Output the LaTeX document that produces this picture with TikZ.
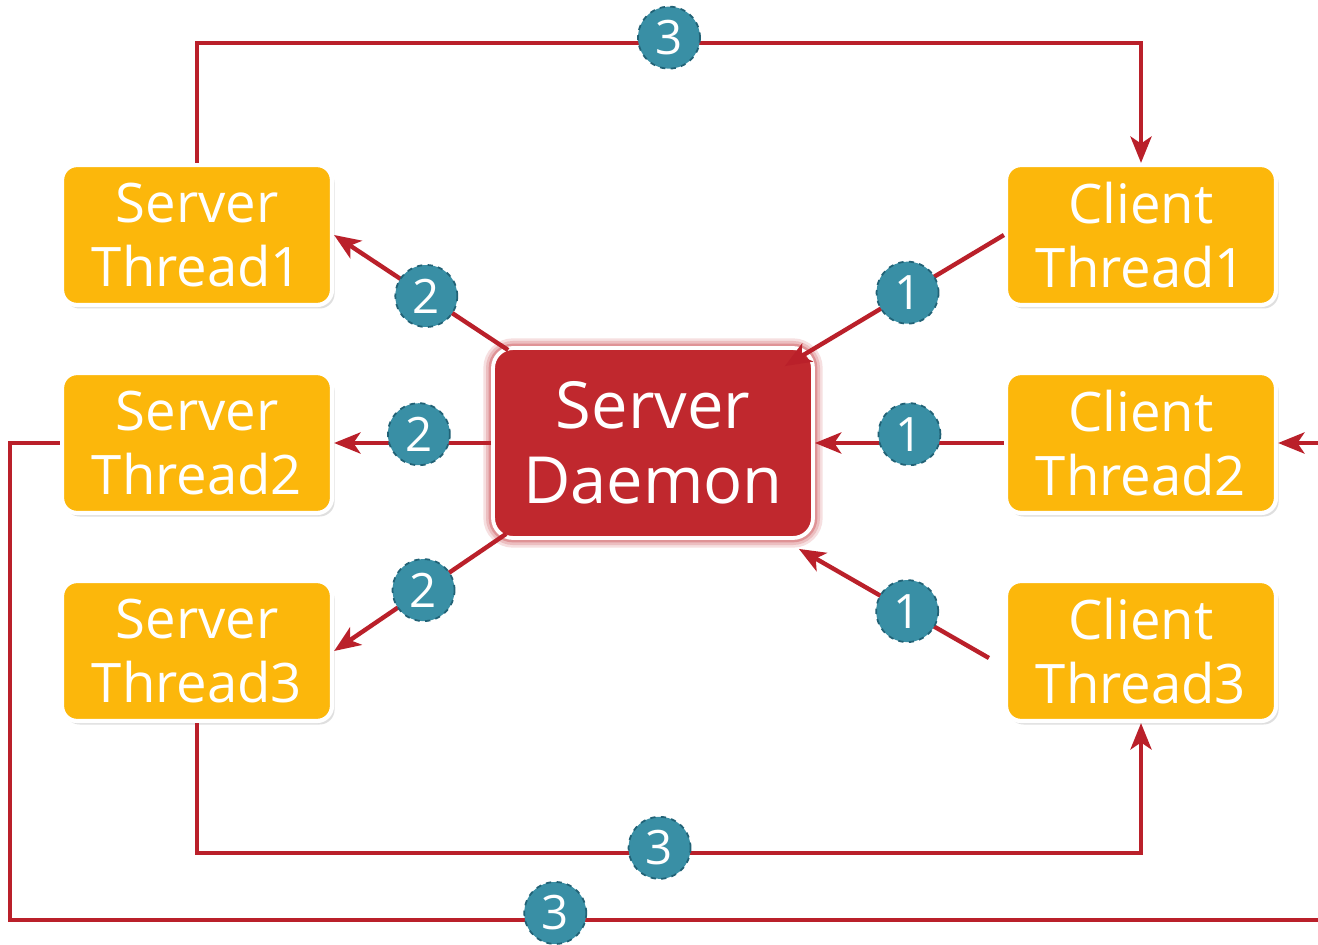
\documentclass[tikz,border=0pt]{standalone}
\usepackage{fontspec}
\setmainfont{Open Sans}
\usetikzlibrary{
    shapes, arrows.meta, positioning, calc, shadows
}
\definecolor{colYellow}{RGB}{252, 183, 11}
\definecolor{colDaemon}{RGB}{192, 40, 46}
\definecolor{colLine}{RGB}{186, 32, 42}
\definecolor{colTeal}{RGB}{57, 143, 165}
\definecolor{colTealDark}{RGB}{33, 98, 118}

\begin{document}
\begin{tikzpicture}[x=0.02cm, y=-0.02cm,
    box/.style={rectangle, draw=white, line width=2.4pt, fill=colYellow,
        rounded corners=0.3cm, minimum width=5.4cm, minimum height=2.8cm,
        align=center, text=white, font=\fontsize{31}{36}\selectfont,
        drop shadow={shadow xshift=1.5pt, shadow yshift=-2pt, opacity=0.25}},
    daemon/.style={rectangle, draw=white, line width=2.2pt, fill=colDaemon,
        rounded corners=0.4cm, minimum width=6.4cm, minimum height=3.8cm,
        align=center, text=white, font=\fontsize{37}{43}\selectfont,
        preaction={draw=colDaemon!15, line width=11pt},
        preaction={draw=colDaemon!30, line width=8pt},
        preaction={draw=colDaemon!50, line width=5pt}},
    num/.style={circle, fill=colTeal, draw=colTealDark, dashed, line width=1pt,
        minimum size=1.24cm, inner sep=0pt, text=white,
        font=\fontsize{27}{27}\selectfont},
    link/.style={draw=colLine, line width=2.5pt,
        -{Stealth[length=15pt, width=12pt, inset=4pt]}}
]
    \clip (0, 0) rectangle (1318, 945);
    \fill[white] (0, 0) rectangle (1318, 945);

    % --- Threads ---
    \node[box] (st1) at (197, 235) {Server\\Thread1};
    \node[box] (st2) at (197, 443) {Server\\Thread2};
    \node[box] (st3) at (197, 651) {Server\\Thread3};
    \node[box] (ct1) at (1141, 235) {Client\\Thread1};
    \node[box] (ct2) at (1141, 443) {Client\\Thread2};
    \node[box] (ct3) at (1141, 651) {Client\\Thread3};

    % --- Daemon ---
    \node[daemon] (sd) at (653, 443) {Server\\Daemon};

    % --- 1: clients to daemon ---
    \draw[link] (ct1.west) -- ($(sd.north east)+(-30, 20)$) node[num, pos=0.44] (c1a) {1};
    \draw[link] (ct2.west) -- (sd.east) node[num, pos=0.5, yshift=5pt] (c1b) {1};
    \draw[link] ($(ct3.west)+(-15, 7)$) -- ($(sd.south east)+(-16, 9)$) node[num, pos=0.43] (c1c) {1};

    % --- 2: daemon to servers ---
    \draw[link] ($(sd.north west)+(17, 4)$) -- (st1.east) node[num, pos=0.47] (c2a) {2};
    \draw[link] (sd.west) -- (st2.east) node[num, pos=0.46, yshift=5pt] (c2b) {2};
    \draw[link] ($(sd.south west)+(15, -6)$) -- (st3.east) node[num, pos=0.48] (c2c) {2};

    % --- 3: servers to clients ---
    \draw[link] (st1.north) -- ++(0, -120) -| (ct1.north) node[num, pos=0.25, yshift=3pt] (c3a) {3};
    \draw[link] (st3.south) -- ++(0, 130) -| (ct3.south) node[num, pos=0.245, yshift=3pt] (c3b) {3};
    \draw[link] (st2.west) -- ++(-50, 0) |- (1340, 920) node[num, pos=0.705, yshift=4pt] (c3c) {3} |- (ct2.east);

\end{tikzpicture}
\end{document}
